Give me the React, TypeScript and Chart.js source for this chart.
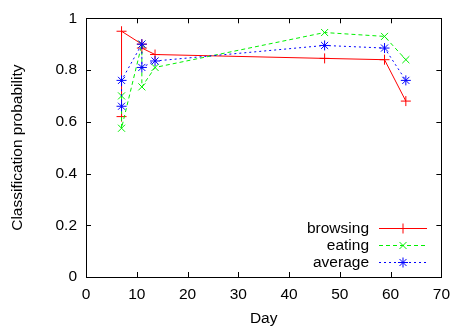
import React, { useEffect, useRef } from "react";
import { Chart, registerables } from "chart.js";
import { drawPoint } from "chart.js/helpers";

Chart.register(...registerables);

const browsingDays = [7, 7, 11, 11, 13.6, 47, 58.8, 63];
const browsingValues = [0.62, 0.95, 0.9, 0.885, 0.86, 0.845, 0.84, 0.68];
const eatingDays = [7, 7, 11, 11, 13.6, 47, 58.8, 63];
const eatingValues = [0.7, 0.575, 0.9, 0.735, 0.81, 0.945, 0.93, 0.84];
const averageDays = [7, 7, 11, 11, 13.6, 47, 58.8, 63];
const averageValues = [0.66, 0.76, 0.9, 0.81, 0.835, 0.895, 0.885, 0.76];

const xTicks = [0, 10, 20, 30, 40, 50, 60, 70];
const yTicks = [0, 0.2, 0.4, 0.6, 0.8, 1];

const FONT = "'Liberation Sans', Arial, Helvetica, sans-serif";
const FS = 15.5;

const toPts = (xs: number[], ys: number[]) => xs.map((x, i) => ({ x, y: ys[i] }));

const series = [
  { label: "browsing", data: toPts(browsingDays, browsingValues), color: "#ff0000", dash: [] as number[], style: "cross", order: 2 },
  { label: "eating", data: toPts(eatingDays, eatingValues), color: "#00f000", dash: [4, 3], style: "crossRot", order: 1 },
  { label: "average", data: toPts(averageDays, averageValues), color: "#0000ff", dash: [2, 3], style: "star", order: 0 },
];

const framePlugin = {
  id: "frame",
  afterDraw(chart: any) {
    const { ctx, chartArea: a, scales } = chart;
    ctx.save();
    ctx.strokeStyle = "#000";
    ctx.lineWidth = 1;
    ctx.setLineDash([]);
    ctx.strokeRect(Math.round(a.left) + 0.5, Math.round(a.top) + 0.5, Math.round(a.right - a.left), Math.round(a.bottom - a.top));
    const tl = 5;
    ctx.beginPath();
    xTicks.forEach((v) => {
      const x = Math.round(scales.x.getPixelForValue(v)) + 0.5;
      ctx.moveTo(x, a.bottom);
      ctx.lineTo(x, a.bottom - tl);
      ctx.moveTo(x, a.top);
      ctx.lineTo(x, a.top + tl);
    });
    yTicks.forEach((v) => {
      const y = Math.round(scales.y.getPixelForValue(v)) + 0.5;
      ctx.moveTo(a.left, y);
      ctx.lineTo(a.left + tl, y);
      ctx.moveTo(a.right, y);
      ctx.lineTo(a.right - tl, y);
    });
    ctx.stroke();
    ctx.restore();
  },
};

const legendPlugin = {
  id: "customLegend",
  afterDatasetsDraw(chart: any) {
    const { ctx } = chart;
    ctx.save();
    const textRight = 369;
    const lineStart = 379;
    const lineEnd = 427;
    const markX = 403;
    const y0 = 227.5;
    const step = 17;
    series.forEach((s, i) => {
      const y = Math.round(y0 + i * step) + 0.5;
      ctx.fillStyle = "#000";
      ctx.font = `${FS}px ${FONT}`;
      ctx.textAlign = "right";
      ctx.textBaseline = "middle";
      ctx.fillText(s.label, textRight, y);
      ctx.strokeStyle = s.color;
      ctx.lineWidth = 1;
      ctx.setLineDash(s.dash);
      ctx.beginPath();
      ctx.moveTo(lineStart, y);
      ctx.lineTo(lineEnd, y);
      ctx.stroke();
      ctx.setLineDash([]);
      ctx.fillStyle = s.color;
      drawPoint(ctx, { pointStyle: s.style, radius: 5, borderWidth: 1, rotation: 0 } as any, markX, y);
    });
    ctx.restore();
  },
};

export default function App() {
  const ref = useRef<HTMLCanvasElement>(null);
  useEffect(() => {
    document.body.style.margin = "0";
    const chart = new Chart(ref.current!, {
      type: "scatter",
      data: {
        datasets: series.map((s) => ({
          label: s.label,
          data: s.data,
          showLine: true,
          borderColor: s.color,
          backgroundColor: s.color,
          borderWidth: 1,
          borderDash: s.dash,
          pointStyle: s.style as any,
          pointRadius: 5,
          pointBorderWidth: 1,
          pointBorderColor: s.color,
          tension: 0,
          order: s.order,
        })),
      },
      options: {
        animation: false,
        responsive: false,
        maintainAspectRatio: false,
        layout: { padding: { left: 0, right: 12, top: 15, bottom: 0 } },
        plugins: { legend: { display: false }, tooltip: { enabled: false } },
        scales: {
          x: {
            type: "linear",
            min: 0,
            max: 70,
            grid: { display: false, drawTicks: false },
            border: { display: false },
            afterBuildTicks: (s: any) => {
              s.ticks = xTicks.map((v) => ({ value: v }));
            },
            afterFit: (s: any) => {
              s.height = 52;
            },
            ticks: { color: "#000", padding: 8, font: { family: FONT, size: FS }, maxRotation: 0, autoSkip: false },
            title: { display: true, text: "Day", color: "#000", font: { family: FONT, size: FS }, padding: { top: 0, bottom: 1 } },
          },
          y: {
            type: "linear",
            min: 0,
            max: 1,
            grid: { display: false, drawTicks: false },
            border: { display: false },
            afterBuildTicks: (s: any) => {
              s.ticks = yTicks.map((v) => ({ value: v }));
            },
            afterFit: (s: any) => {
              s.width = 86;
            },
            ticks: { color: "#000", padding: 9, font: { family: FONT, size: FS }, callback: (v: any) => String(v) },
            title: { display: true, text: "Classification probability", color: "#000", font: { family: FONT, size: FS }, padding: { top: 8, bottom: 0 } },
          },
        },
      },
      plugins: [framePlugin, legendPlugin],
    });
    return () => chart.destroy();
  }, []);
  return (
    <div style={{ position: "absolute", left: 0, top: 0, width: 458, height: 329 }}>
      <canvas ref={ref} width={458} height={329} style={{ width: 458, height: 329, display: "block" }} />
    </div>
  );
}
